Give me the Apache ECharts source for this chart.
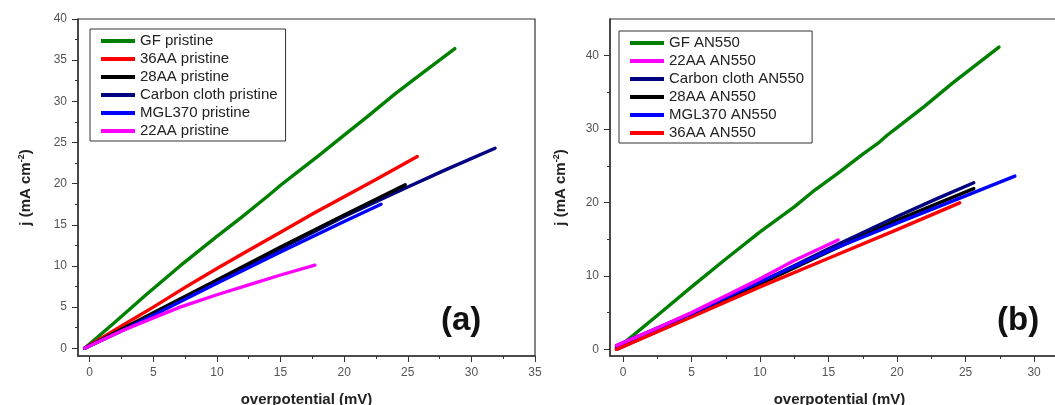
<!DOCTYPE html>
<html>
<head>
<meta charset="utf-8">
<script src="https://cdn.jsdelivr.net/npm/echarts@6/dist/echarts.min.js"></script>
<style>
  html, body { margin: 0; padding: 0; background: #fff; }
  #chart { width: 1055px; height: 405px; }
</style>
</head>
<body>
<div id="chart"></div>
<script>
// Polarisation data, j (mA cm^-2) versus overpotential (mV)

// (a) pristine electrodes
const gfPristineX = [-0.4, 2, 4.5, 7.1, 10, 12, 14, 15, 16.5, 18, 20, 21.8, 24, 25.7, 27.5, 28.7];
const gfPristineY = [0, 3.2, 6.6, 10.0, 13.6, 16.0, 18.5, 19.8, 21.6, 23.4, 25.9, 28.1, 30.9, 32.9, 35.0, 36.4];
const aa36PristineX = [-0.4, 2.5, 5, 7.5, 10, 12.5, 15, 17.5, 20, 22.5, 25.75];
const aa36PristineY = [0, 2.7, 5.0, 7.4, 9.7, 11.9, 14.1, 16.3, 18.4, 20.5, 23.3];
const aa28PristineX = [-0.4, 2.5, 5, 10, 15, 20, 22.5, 24.8];
const aa28PristineY = [0, 2.3, 4.3, 8.3, 12.3, 16.2, 18.1, 19.85];
const clothPristineX = [-0.4, 2.5, 5, 10, 15, 20, 25, 28, 31.86];
const clothPristineY = [0, 2.2, 4.2, 8.2, 12.1, 16.0, 19.6, 21.7, 24.3];
const mglPristineX = [-0.4, 2.5, 5, 10, 15, 20, 22.9];
const mglPristineY = [0, 2.1, 4.0, 7.9, 11.7, 15.4, 17.5];
const aa22PristineX = [-0.4, 2.5, 5, 7.1, 10, 12.5, 15, 17.7];
const aa22PristineY = [0, 2.1, 3.7, 5.0, 6.5, 7.7, 8.9, 10.1];

// (b) electrodes annealed at 550
const gfAnX = [-0.3, 2.5, 5, 7.5, 10, 12.5, 14, 15.7, 17.5, 18.7, 19.3, 20, 22, 24, 26, 27.44];
const gfAnY = [0.3, 4.6, 8.5, 12.3, 16.0, 19.4, 21.7, 24.0, 26.6, 28.2, 29.2, 30.2, 33.1, 36.2, 39.1, 41.17];
const aa22AnX = [-0.48, 2.5, 5, 7.5, 10, 12.5, 15.7];
const aa22AnY = [0.5, 2.9, 5.0, 7.3, 9.6, 12.1, 14.9];
const clothAnX = [-0.48, 5, 10, 15, 20, 23, 25.6];
const clothAnY = [0.2, 4.6, 9.1, 13.7, 18.1, 20.6, 22.7];
const aa28AnX = [-0.48, 5, 10, 15, 20, 25.6];
const aa28AnY = [0, 4.5, 8.9, 13.3, 17.6, 21.9];
const mglAnX = [-0.48, 5, 10, 15, 20, 25, 28.6];
const mglAnY = [0.5, 4.9, 9.2, 13.4, 17.2, 20.9, 23.6];
const aa36AnX = [-0.48, 5, 10, 15, 20, 24.57];
const aa36AnY = [0, 4.4, 8.5, 12.4, 16.3, 19.95];

// Tick positions
const xMajorA = [0, 5, 10, 15, 20, 25, 30, 35];
const xMinorA = [2.5, 7.5, 12.5, 17.5, 22.5, 27.5, 32.5];
const yMajorA = [0, 5, 10, 15, 20, 25, 30, 35, 40];
const yMinorA = [2.5, 7.5, 12.5, 17.5, 22.5, 27.5, 32.5, 37.5];
const xMajorB = [0, 5, 10, 15, 20, 25, 30];
const xMinorB = [2.5, 7.5, 12.5, 17.5, 22.5, 27.5];
const yMajorB = [0, 10, 20, 30, 40];
const yMinorB = [5, 15, 25, 35];

const FONT = 'Liberation Sans, Arial, sans-serif';
const AXIS_COLOR = '#333';
const LABEL_STYLE = { show: true, margin: 11, color: '#555', fontFamily: FONT, fontSize: 12 };

function pairs(xs, ys) {
  return xs.map((x, i) => [x, ys[i]]);
}

function majorAxis(extra) {
  return Object.assign({
    type: 'value',
    axisLine: { show: true, onZero: false, lineStyle: { color: AXIS_COLOR, width: 1.5 } },
    splitLine: { show: false },
    nameLocation: 'middle',
    nameTextStyle: { fontFamily: FONT, fontSize: 15, fontWeight: 'bold', color: '#222' }
  }, extra);
}

function minorAxis(extra) {
  return Object.assign({
    type: 'value',
    axisLine: { show: false, onZero: false },
    axisLabel: { show: false },
    splitLine: { show: false }
  }, extra);
}

function ticks(values, len) {
  return { show: true, inside: false, length: len, customValues: values, lineStyle: { color: AXIS_COLOR, width: 1 } };
}

function labels(values) {
  return Object.assign({ customValues: values }, LABEL_STYLE);
}

const yName = 'j (mA cm{sup|-2})';
const yNameStyle = {
  fontFamily: FONT, fontSize: 15, fontWeight: 'bold', color: '#222', lineHeight: 18,
  rich: { sup: { fontFamily: FONT, fontSize: 9, fontWeight: 'bold', color: '#222', lineHeight: 9, verticalAlign: 'top' } }
};

function line(name, data, color, xi, yi) {
  return {
    name: name, type: 'line', data: data,
    xAxisIndex: xi, yAxisIndex: yi,
    showSymbol: false, symbol: 'none', smooth: false,
    lineStyle: { color: color, width: 3.4, cap: 'round', join: 'round' },
    itemStyle: { color: color },
    emphasis: { disabled: true },
    animation: false
  };
}

function legendBox(left, top, names) {
  return {
    orient: 'vertical', left: left, top: top,
    padding: [3, 8, 1, 11],
    borderColor: '#333', borderWidth: 1,
    backgroundColor: '#fff',
    icon: 'rect', itemWidth: 34, itemHeight: 4, itemGap: 0,
    selectedMode: false,
    textStyle: { fontFamily: FONT, fontSize: 15, color: '#222', lineHeight: 18 },
    data: names
  };
}

const namesA = ['GF pristine', '36AA pristine', '28AA pristine', 'Carbon cloth pristine', 'MGL370 pristine', '22AA pristine'];
const namesB = ['GF AN550', '22AA AN550', 'Carbon cloth AN550', '28AA AN550', 'MGL370 AN550', '36AA AN550'];

const chart = echarts.init(document.getElementById('chart'), null, { renderer: 'canvas' });

chart.setOption({
  animation: false,
  backgroundColor: '#fff',
  grid: [
    { left: 78, top: 19, width: 457, height: 337, show: true, borderColor: AXIS_COLOR, borderWidth: 1.2,
      containLabel: false, outerBoundsMode: 'none' },
    { left: 610, top: 19, width: 459, height: 337, show: true, borderColor: AXIS_COLOR, borderWidth: 1.2,
      containLabel: false, outerBoundsMode: 'none' }
  ],
  xAxis: [
    majorAxis({ gridIndex: 0, position: 'bottom', min: -0.92, max: 35,
      axisTick: ticks(xMajorA, 6), axisLabel: labels(xMajorA),
      name: 'overpotential (mV)', nameGap: 36 }),
    minorAxis({ gridIndex: 0, position: 'bottom', min: -0.92, max: 35, axisTick: ticks(xMinorA, 3) }),
    majorAxis({ gridIndex: 1, position: 'bottom', min: -0.95, max: 32.55,
      axisTick: ticks(xMajorB, 6), axisLabel: labels(xMajorB),
      name: 'overpotential (mV)', nameGap: 36 }),
    minorAxis({ gridIndex: 1, position: 'bottom', min: -0.95, max: 32.55, axisTick: ticks(xMinorB, 3) })
  ],
  yAxis: [
    majorAxis({ gridIndex: 0, position: 'left', min: -0.94, max: 40,
      axisTick: ticks(yMajorA, 6), axisLabel: labels(yMajorA),
      name: yName, nameGap: 43, nameRotate: 90, nameTextStyle: yNameStyle }),
    minorAxis({ gridIndex: 0, position: 'left', min: -0.94, max: 40, axisTick: ticks(yMinorA, 3) }),
    majorAxis({ gridIndex: 1, position: 'left', min: -0.91, max: 45,
      axisTick: ticks(yMajorB, 6), axisLabel: labels(yMajorB),
      name: yName, nameGap: 40, nameRotate: 90, nameTextStyle: yNameStyle }),
    minorAxis({ gridIndex: 1, position: 'left', min: -0.91, max: 45, axisTick: ticks(yMinorB, 3) })
  ],
  legend: [
    legendBox(90, 29, namesA),
    legendBox(619, 31, namesB)
  ],
  graphic: [
    { type: 'text', left: 441, top: 304, z: 100,
      style: { text: '(a)', fontFamily: FONT, fontSize: 33, fontWeight: 'bold', fill: '#111' } },
    { type: 'text', left: 997, top: 304, z: 100,
      style: { text: '(b)', fontFamily: FONT, fontSize: 33, fontWeight: 'bold', fill: '#111' } }
  ],
  series: [
    line('GF pristine', pairs(gfPristineX, gfPristineY), '#008000', 0, 0),
    line('36AA pristine', pairs(aa36PristineX, aa36PristineY), '#ff0000', 0, 0),
    line('Carbon cloth pristine', pairs(clothPristineX, clothPristineY), '#000080', 0, 0),
    line('28AA pristine', pairs(aa28PristineX, aa28PristineY), '#000000', 0, 0),
    line('MGL370 pristine', pairs(mglPristineX, mglPristineY), '#0000ff', 0, 0),
    line('22AA pristine', pairs(aa22PristineX, aa22PristineY), '#ff00ff', 0, 0),

    line('GF AN550', pairs(gfAnX, gfAnY), '#008000', 2, 2),
    line('Carbon cloth AN550', pairs(clothAnX, clothAnY), '#000080', 2, 2),
    line('28AA AN550', pairs(aa28AnX, aa28AnY), '#000000', 2, 2),
    line('36AA AN550', pairs(aa36AnX, aa36AnY), '#ff0000', 2, 2),
    line('MGL370 AN550', pairs(mglAnX, mglAnY), '#0000ff', 2, 2),
    line('22AA AN550', pairs(aa22AnX, aa22AnY), '#ff00ff', 2, 2)
  ]
});
</script>
</body>
</html>
